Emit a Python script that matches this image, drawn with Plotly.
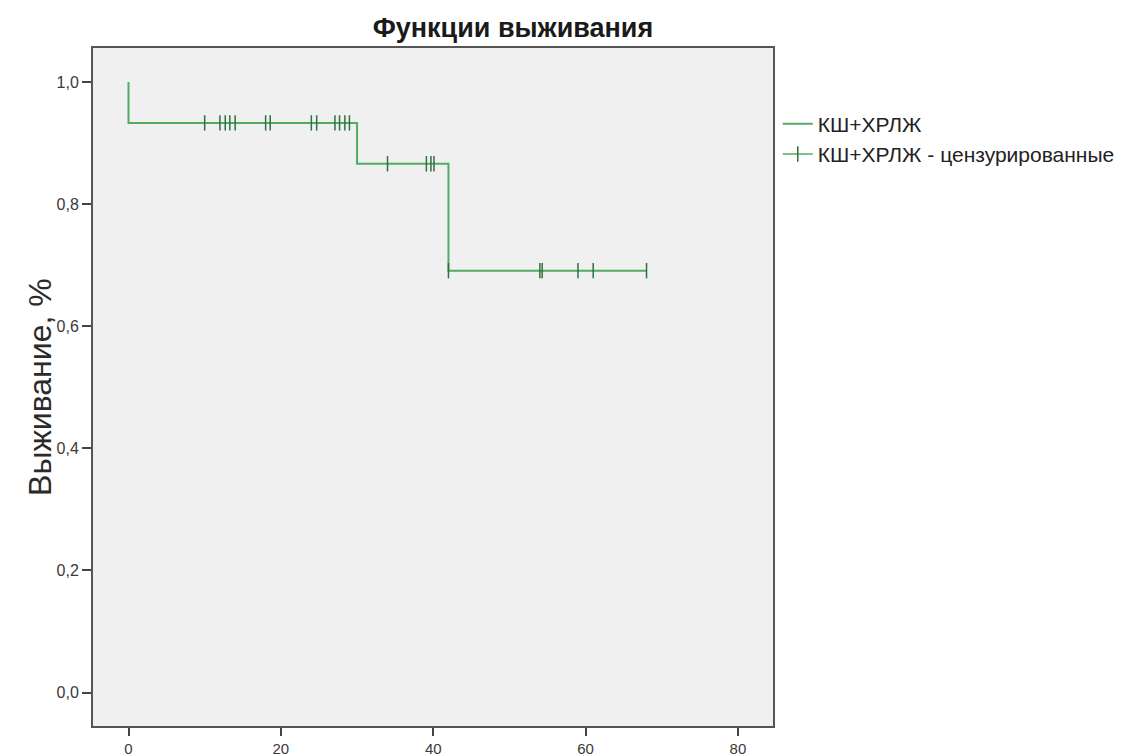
import numpy as np
import plotly.graph_objects as go

# Kaplan-Meier step function: event times and survival after each step
step_times = [0, 0, 30, 42, 68]
step_surv = [1.0, 0.933, 0.866, 0.691, 0.691]

# Censored observation times (months)
censor_times = [10, 12, 12.7, 13.3, 14, 18, 18.6, 24, 24.7, 27.1, 27.7, 28.4, 29,
                34, 39.1, 39.7, 40.1, 42, 54, 54.3, 59, 61, 68]

series_name = "КШ+ХРЛЖ"
censor_name = "КШ+ХРЛЖ - цензурированные"
title_text = "Функции выживания"
y_title = "Выживание, %"
x_ticks = [0, 20, 40, 60, 80]
y_ticks = [0.0, 0.2, 0.4, 0.6, 0.8, 1.0]

# survival value at each censored time, read from the step function
event_t = np.array(step_times[1:-1])
event_s = np.array(step_surv[1:-1])
idx = np.searchsorted(event_t, np.array(censor_times), side="right")
censor_surv = np.where(idx == 0, step_surv[0], event_s[np.maximum(idx - 1, 0)])

line_green = "#52ab60"
mark_green = "#2f7040"
font_family = "Liberation Sans, Arial, sans-serif"

fig = go.Figure()
fig.add_trace(go.Scatter(
    x=step_times, y=step_surv, mode="lines", line_shape="hv",
    line=dict(color=line_green, width=2), name=series_name,
))
fig.add_trace(go.Scatter(
    x=censor_times, y=censor_surv, mode="markers", showlegend=False,
    marker=dict(symbol="line-ns", size=11, line=dict(width=1.5, color=mark_green)),
    name=censor_name,
))
# legend entry for censored marks
fig.add_trace(go.Scatter(
    x=[None], y=[None], mode="lines+markers", name=censor_name,
    line=dict(color=line_green, width=1.5),
    marker=dict(symbol="line-ns", size=11, line=dict(width=1.5, color=mark_green)),
))

fig.update_layout(
    width=1145, height=756,
    margin=dict(l=93, r=372, t=48, b=30),
    paper_bgcolor="white", plot_bgcolor="#f0f0f0",
    separators=", ",
    title=dict(text="<b>" + title_text + "</b>", x=0.6176, xref="paper", xanchor="center",
               y=1 - 28 / 756, yref="container", yanchor="middle",
               font=dict(family=font_family, size=27, color="#1a1a1a")),
    showlegend=True,
    legend=dict(x=1.007, xanchor="left", y=0.918, yanchor="top",
                font=dict(family=font_family, size=21, color="#222"),
                bgcolor="rgba(0,0,0,0)", tracegroupgap=0),
    xaxis=dict(range=[-4.66, 84.6], tickvals=x_ticks, ticks="outside", ticklen=8,
               tickwidth=2, tickcolor="#444", showgrid=False, zeroline=False,
               showline=True, mirror=True, linecolor="#555", linewidth=2,
               tickfont=dict(family=font_family, size=15, color="#3a3a3a"),
               automargin=False),
    yaxis=dict(range=[-0.0548, 1.0557], tickvals=y_ticks, tickformat=".1f",
               ticks="outside", ticklen=9, tickwidth=2, tickcolor="#444",
               showgrid=False, zeroline=False, showline=True, mirror=True,
               linecolor="#555", linewidth=2,
               tickfont=dict(family=font_family, size=16, color="#3a3a3a"),
               automargin=False),
    annotations=[dict(text=y_title, xref="paper", yref="paper", x=-0.078, y=0.5,
                      xanchor="center", yanchor="middle", textangle=-90, showarrow=False,
                      font=dict(family=font_family, size=32, color="#2a2a2a"))],
)

fig.write_html("out.html")
